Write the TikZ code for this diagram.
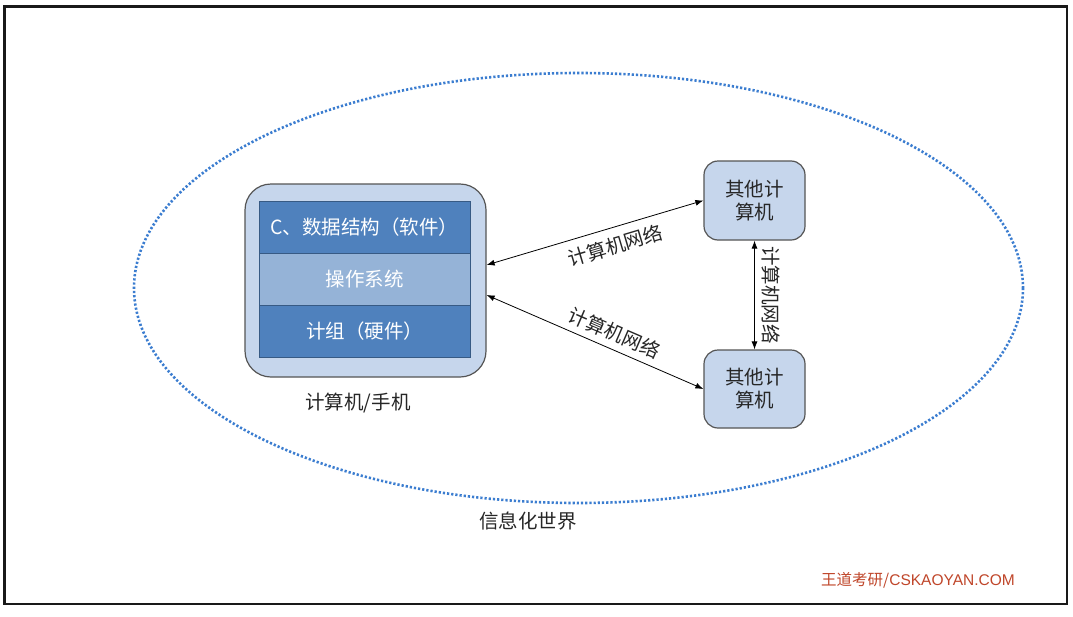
\documentclass[tikz,border=0pt]{standalone}
\usepackage{fontspec}
\setmainfont{Noto Sans CJK SC}
\setsansfont{Liberation Sans}
\usetikzlibrary{arrows.meta}
\definecolor{darkblue}{HTML}{4F81BD}
\definecolor{midblue}{HTML}{95B3D7}
\definecolor{paleblue}{HTML}{C6D6EC}
\definecolor{dotblue}{HTML}{3B7DD0}
\definecolor{brand}{HTML}{C0462A}
\definecolor{boxline}{HTML}{555555}
\tikzset{
  cjk/.style={font=\fontsize{19.5}{23}\selectfont, text=black!85},
  layer/.style={draw=darkblue!70!black, line width=0.6pt, minimum width=211pt, minimum height=52pt, inner sep=0pt, font=\fontsize{19.5}{23}\selectfont, text=white},
  rbox/.style={draw=boxline, line width=1.2pt, fill=paleblue, rounded corners=14pt, inner sep=0pt},
  link/.style={line width=0.8pt, black, {Latex[length=8pt,width=6pt]}-{Latex[length=8pt,width=6pt]}},
}
\begin{document}
\begin{tikzpicture}[x=1pt,y=-1pt]
\useasboundingbox (0,0) rectangle (1073,616);
\fill[white] (0,0) rectangle (1073,616);
\draw[line width=2.6pt, black!90] (4.5,6.5) rectangle (1067,604);
% world ellipse
\draw[dotblue, line width=2.6pt, dash pattern=on 2.2pt off 2pt] (578.5,288) ellipse [x radius=444.5, y radius=215];
\node[cjk] (world) at (528,521) {信息化世界};
% main computer
\node[rbox, rounded corners=26pt, minimum width=241pt, minimum height=193pt] (main) at (365.5,280.5) {};
\node[layer, fill=darkblue] (sw) at (364.5,227) {C、数据结构（软件）};
\node[layer, fill=midblue] (os) at (364.5,279) {操作系统};
\node[layer, fill=darkblue] (hw) at (364.5,331.5) {计组（硬件）};
\node[cjk] (mainlbl) at (358,403) {计算机/手机};
% other computers
\node[rbox, minimum width=101pt, minimum height=79pt, cjk, align=center] (o1) at (754.5,200.5) {其他计\\算机};
\node[rbox, minimum width=101pt, minimum height=78pt, cjk, align=center] (o2) at (754.5,389) {其他计\\算机};
% links
\draw[link] ([yshift=15.5pt]main.east) -- (o1.west)
  node[pos=0.57, sloped, yshift=-18pt, cjk] (l1) {计算机网络};
\draw[link] ([yshift=-14.5pt]main.east) -- (o2.west)
  node[pos=0.56, sloped, yshift=16pt, cjk] (l2) {计算机网络};
\draw[link] (o1.south) -- (o2.north)
  node[midway, xshift=17pt, rotate=-90, cjk] (l3) {计算机网络};
% brand
\node[font=\fontsize{15.5}{18}\selectfont, text=brand] (brandlbl) at (918,580) {王道考研/\sffamily CSKAOYAN.COM};
\end{tikzpicture}
\end{document}
